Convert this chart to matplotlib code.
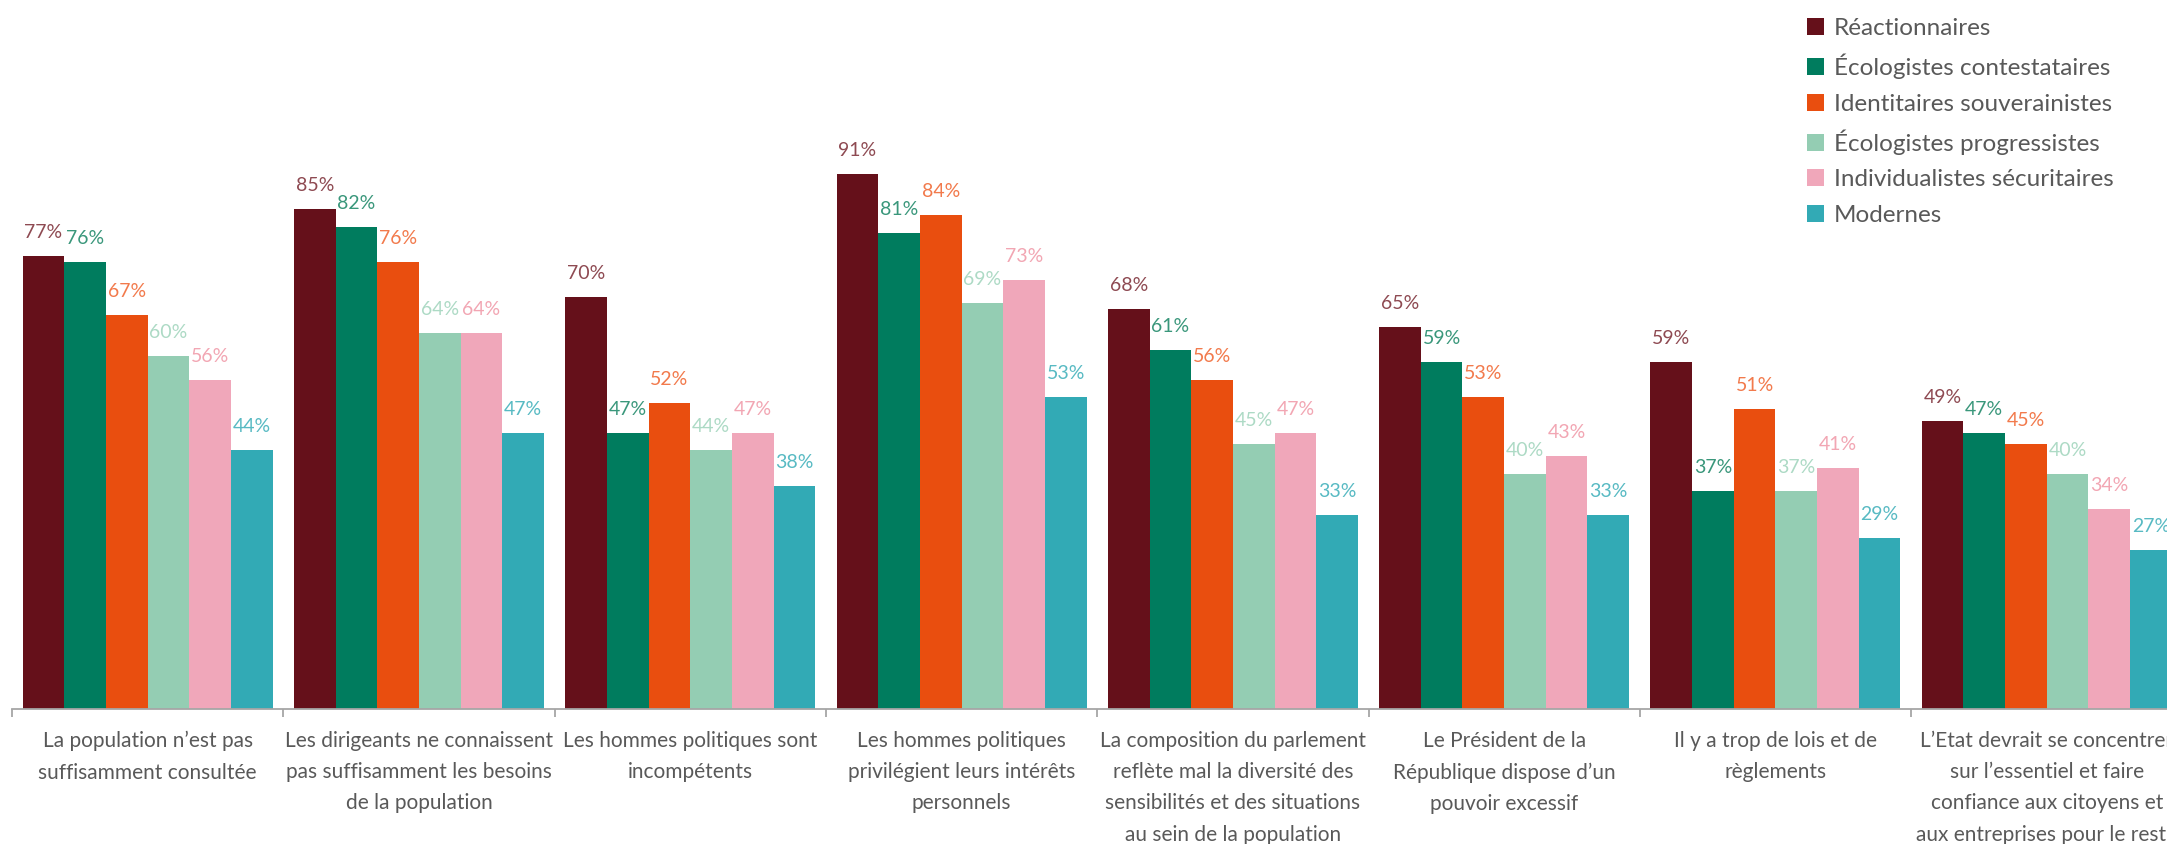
import numpy as np
import matplotlib
matplotlib.use('Agg')
import matplotlib.pyplot as plt
from matplotlib.patches import Patch

# Data
categories = [
    "La population n’est pas\nsuffisamment consultée",
    "Les dirigeants ne connaissent\npas suffisamment les besoins\nde la population",
    "Les hommes politiques sont\nincompétents",
    "Les hommes politiques\nprivilégient leurs intérêts\npersonnels",
    "La composition du parlement\nreflète mal la diversité des\nsensibilités et des situations\nau sein de la population",
    "Le Président de la\nRépublique dispose d’un\npouvoir excessif",
    "Il y a trop de lois et de\nrèglements",
    "L’Etat devrait se concentrer\nsur l’essentiel et faire\nconfiance aux citoyens et\naux entreprises pour le reste",
]
series_names = [
    "Réactionnaires",
    "Écologistes contestataires",
    "Identitaires souverainistes",
    "Écologistes progressistes",
    "Individualistes sécuritaires",
    "Modernes",
]
reactionnaires = [77, 85, 70, 91, 68, 65, 59, 49]
ecolo_contest = [76, 82, 47, 81, 61, 59, 37, 47]
identitaires = [67, 76, 52, 84, 56, 53, 51, 45]
ecolo_progress = [60, 64, 44, 69, 45, 40, 37, 40]
individualistes = [56, 64, 47, 73, 47, 43, 41, 34]
modernes = [44, 47, 38, 53, 33, 33, 29, 27]
series = [reactionnaires, ecolo_contest, identitaires, ecolo_progress, individualistes, modernes]

bar_colors = ['#65101A', '#007C5E', '#E94E0F', '#94CDB3', '#F0A7BA', '#32AAB5']
label_colors = ['#8E4A52', '#3A977B', '#F27A4C', '#ADDAC5', '#F2A6B3', '#58BAC3']
text_color = '#595959'
axis_color = '#A6A6A6'

plt.rcParams['font.family'] = ['Lato', 'DejaVu Sans']

W, H = 2167, 844
fig = plt.figure(figsize=(W / 100, H / 100), dpi=100)
unit = 271.3  # px per group
base = 709    # px from top of baseline
ax = fig.add_axes([12 / W, (H - base) / H, 8 * unit / W, base / H])

n = len(categories)
bw = 0.1536
x = np.arange(n) + 0.5
for j, (vals, c, lc) in enumerate(zip(series, bar_colors, label_colors)):
    pos = x + (j - 2.5) * bw
    ax.bar(pos, vals, width=bw, color=c, linewidth=0)
    for p, v in zip(pos, vals):
        ax.annotate(f"{v}%", (p, v), xytext=(0, 13), textcoords='offset points',
                    ha='center', va='baseline', fontsize=14, color=lc)

ax.set_xlim(0, n)
ax.set_ylim(0, base / 5.88)
ax.set_xticks(np.arange(n + 1))
ax.set_xticklabels([])
ax.set_yticks([])
ax.tick_params(axis='x', length=6, width=1.3, color=axis_color, direction='out')
for s in ['top', 'right', 'left']:
    ax.spines[s].set_visible(False)
ax.spines['bottom'].set_color(axis_color)
ax.spines['bottom'].set_linewidth(1.3)

for xi, lab in zip(x, categories):
    ax.text(xi, -0.031, lab, transform=ax.get_xaxis_transform(), ha='center', va='top',
            fontsize=15, color=text_color, linespacing=1.7)

handles = [Patch(facecolor=c, edgecolor='none') for c in bar_colors]
fig.legend(handles, series_names, loc='upper left', bbox_to_anchor=(1790 / W, 1 - 1 / H),
           frameon=False, fontsize=17.5, labelcolor=text_color, handlelength=0.7,
           handleheight=0.7, handletextpad=0.4, labelspacing=0.6, borderpad=0.2)

fig.savefig('out.png', dpi=100)
